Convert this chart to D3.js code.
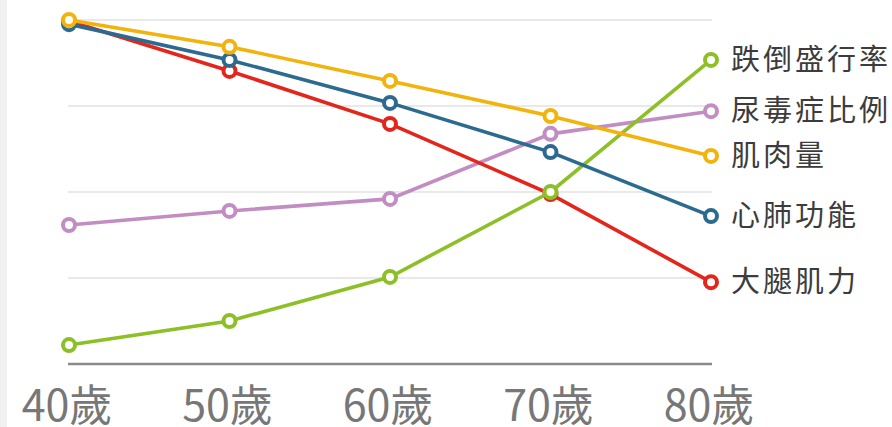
<!DOCTYPE html>
<html>
<head>
<meta charset="utf-8">
<script src="https://cdn.jsdelivr.net/npm/d3@7"></script>
<style>
  body { margin: 0; background: #fff; }
  svg { display: block; font-family: "Noto Sans CJK TC", "Noto Sans", sans-serif; }
</style>
</head>
<body>
<div id="chart"></div>
<script>
var ages = ["40歲", "50歲", "60歲", "70歲", "80歲"]
var yTicks = [25, 50, 75, 100]

var muscleMass = [100, 92.2, 82.3, 72.1, 60.5]
var heartLung = [98.8, 88.4, 75.9, 61.6, 43.0]
var thighStrength = [99.7, 85.2, 69.8, 49.4, 23.8]
var uremia = [40.4, 44.5, 48.0, 66.9, 73.5]
var falls = [5.5, 12.5, 25.3, 50.0, 88.4]

// drawing order: last one ends up on top
var series = [
  {name: "尿毒症比例", values: uremia, color: "#c18dc2"},
  {name: "大腿肌力", values: thighStrength, color: "#e3251b"},
  {name: "跌倒盛行率", values: falls, color: "#8cc026"},
  {name: "心肺功能", values: heartLung, color: "#2c6a8f"},
  {name: "肌肉量", values: muscleMass, color: "#f2b40c"}
]

var svg = d3.select("#chart").append("svg").attr("width", 892).attr("height", 427)

svg.append("rect")
    .attr("x", 0).attr("y", 0)
    .attr("width", 7).attr("height", 427)
    .attr("fill", "#f1f1f1")

var x = d3.scalePoint().domain(ages).range([69, 711])
var y = d3.scaleLinear().domain([0, 100]).range([364, 20])

svg.append("g")
  .selectAll("line")
  .data(yTicks)
  .join("line")
    .attr("x1", 68).attr("x2", 712)
    .attr("y1", function(d) { return y(d) })
    .attr("y2", function(d) { return y(d) })
    .attr("stroke", "#e2e2e2")
    .attr("stroke-width", 1.5)

svg.append("line")
    .attr("x1", 68).attr("x2", 712)
    .attr("y1", y(0)).attr("y2", y(0))
    .attr("stroke", "#8a8a8a")
    .attr("stroke-width", 2.5)

svg.append("g")
  .selectAll("text")
  .data(ages)
  .join("text")
    .attr("x", function(d) { return x(d) - 2 })
    .attr("y", 421)
    .attr("text-anchor", "middle")
    .attr("fill", "#777")
    .style("font-size", "43px")
    .text(function(d) { return d })

var lineFunc = d3.line()
    .x(function(d, i) { return x(ages[i]) })
    .y(function(d) { return y(d) })

series.forEach(function(s) {
  var g = svg.append("g")
  g.append("path")
      .attr("d", lineFunc(s.values))
      .attr("fill", "none")
      .attr("stroke", s.color)
      .attr("stroke-width", 3.6)
  g.selectAll("circle")
    .data(s.values)
    .join("circle")
      .attr("cx", function(d, i) { return x(ages[i]) })
      .attr("cy", function(d) { return y(d) })
      .attr("r", 6)
      .attr("fill", "#fff")
      .attr("stroke", s.color)
      .attr("stroke-width", 4)
  g.append("text")
      .attr("x", 731)
      .attr("y", y(s.values[4]) + 2)
      .attr("dominant-baseline", "middle")
      .attr("fill", "#3c3c3c")
      .style("font-size", "29px")
      .style("letter-spacing", "3px")
      .text(s.name)
})
</script>
</body>
</html>
